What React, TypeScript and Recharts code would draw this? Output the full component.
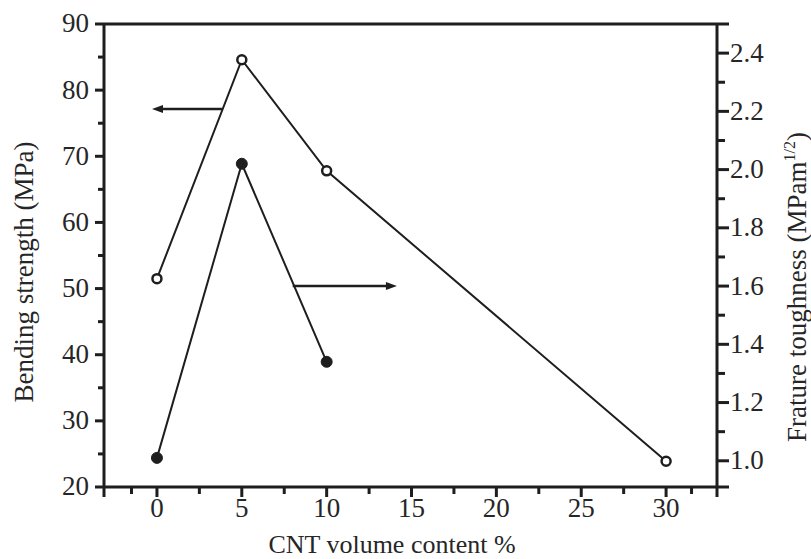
import React from 'react';
import { LineChart, Line, XAxis, YAxis, ReferenceLine } from 'recharts';

const cntContent = [0, 5, 10, 30];
const bendingStrength = [51.5, 84.6, 67.8, 23.9];
const fractureToughness = [1.01, 2.02, 1.34, null];

const xMajorTicks = [0, 5, 10, 15, 20, 25, 30];
const xMinorTicks = [-1.5, 2.5, 7.5, 12.5, 17.5, 22.5, 27.5, 31.5];
const xDomain = [-3.12, 33];

const leftMajorTicks = [20, 30, 40, 50, 60, 70, 80, 90];
const leftMinorTicks = [25, 35, 45, 55, 65, 75, 85];
const leftDomain = [20, 90];

const rightMajorTicks = [1.0, 1.2, 1.4, 1.6, 1.8, 2.0, 2.2, 2.4];
const rightMinorTicks = [1.1, 1.3, 1.5, 1.7, 1.9, 2.1, 2.3];
const rightEdgeTicks = [0.91, 2.5];
const rightDomain = [0.91, 2.5];

const arrowToLeftAxis = [{ x: 3.83, y: 77.15 }, { x: -0.29, y: 77.15 }];
const arrowToRightAxis = [{ x: 8.0, y: 50.4 }, { x: 14.14, y: 50.4 }];

const data = cntContent.map((c, i) => ({
  cnt: c,
  bending: bendingStrength[i],
  toughness: fractureToughness[i],
}));

const INK = '#1e1e1e';
const TEXT = '#262626';
const FONT = '"Liberation Serif", "Times New Roman", serif';
const TICK_FS = 27;

const XTick = (props: any) => {
  const { x, y, payload } = props;
  const v = payload.value;
  const major = xMajorTicks.includes(v);
  const minor = xMinorTicks.includes(v);
  const len = minor ? 7 : 10;
  return (
    <g>
      <line x1={x} y1={y} x2={x} y2={y + len} stroke={INK} strokeWidth={3} />
      {major && (
        <text x={x} y={y + 21} dy="0.35em" textAnchor="middle" fontSize={TICK_FS} fontFamily={FONT} fill={TEXT}>
          {v}
        </text>
      )}
    </g>
  );
};

const LeftTick = (props: any) => {
  const { x, y, payload } = props;
  const v = payload.value;
  const major = leftMajorTicks.includes(v);
  const len = major ? 9 : 6;
  return (
    <g>
      <line x1={x - len} y1={y} x2={x} y2={y} stroke={INK} strokeWidth={3} />
      {major && (
        <text x={x - 15} y={y - 1} dy="0.35em" textAnchor="end" fontSize={TICK_FS} fontFamily={FONT} fill={TEXT}>
          {v}
        </text>
      )}
    </g>
  );
};

const RightTick = (props: any) => {
  const { x, y, payload } = props;
  const v = payload.value;
  const major = rightMajorTicks.some((t) => Math.abs(t - v) < 1e-6);
  const edge = rightEdgeTicks.some((t) => Math.abs(t - v) < 1e-6);
  const len = major || edge ? 12 : 8;
  return (
    <g>
      <line x1={x} y1={y} x2={x + len} y2={y} stroke={INK} strokeWidth={3} />
      {major && (
        <text x={x + 13} y={y - 1} dy="0.35em" textAnchor="start" fontSize={TICK_FS} fontFamily={FONT} fill={TEXT}>
          {Number(v).toFixed(1)}
        </text>
      )}
    </g>
  );
};

const LeftTitle = () => (
  <text
    x={33}
    y={272}
    transform="rotate(-90, 33, 272)"
    textAnchor="middle"
    fontSize={27}
    fontFamily={FONT}
    fill={TEXT}
  >
    Bending strength (MPa)
  </text>
);

const RightTitle = () => (
  <text
    x={806}
    y={287}
    transform="rotate(-90, 806, 287)"
    textAnchor="middle"
    fontSize={27}
    fontFamily={FONT}
    fill={TEXT}
  >
    Frature toughness (MPam
    <tspan fontSize={16} dy={-11}>1/2</tspan>
    <tspan dy={11}>)</tspan>
  </text>
);

const XTitle = () => (
  <text x={392} y={553} textAnchor="middle" fontSize={26} fontFamily={FONT} fill={TEXT}>
    CNT volume content %
  </text>
);

const ArrowShape = (props: any) => {
  const { x1, y1, x2, y2 } = props;
  if (x1 == null) return null;
  const dir = x2 > x1 ? 1 : -1;
  const head = 11;
  const hw = 4;
  return (
    <g>
      <line x1={x1} y1={y1} x2={x2 - dir * head * 0.6} y2={y2} stroke={INK} strokeWidth={2.5} />
      <polygon
        points={`${x2},${y2} ${x2 - dir * head},${y2 - hw} ${x2 - dir * head},${y2 + hw}`}
        fill={INK}
      />
    </g>
  );
};

const OpenDot = (props: any) => {
  const { cx, cy } = props;
  if (cx == null || cy == null) return null;
  return <circle cx={cx} cy={cy} r={4.5} fill="#fff" stroke={INK} strokeWidth={2.5} />;
};

const FilledDot = (props: any) => {
  const { cx, cy, value } = props;
  if (cx == null || cy == null || value == null) return null;
  return <circle cx={cx} cy={cy} r={5.5} fill={INK} stroke={INK} strokeWidth={1} />;
};

export default function App() {
  return (
    <div style={{ position: 'absolute', left: 0, top: 0, width: 811, height: 559, background: '#fff' }}>
      <LineChart width={811} height={559} data={data} margin={{ top: 24, right: 0, bottom: 0, left: 0 }}>
        <XAxis
          dataKey="cnt"
          type="number"
          domain={xDomain}
          allowDataOverflow
          ticks={[xDomain[0], ...xMinorTicks, ...xMajorTicks, xDomain[1]].sort((a, b) => a - b)}
          interval={0}
          height={72}
          tickSize={0}
          tickMargin={0}
          tickLine={false}
          tick={<XTick />}
          axisLine={{ stroke: INK, strokeWidth: 3 }}
          label={<XTitle />}
        />
        <YAxis
          yAxisId="left"
          orientation="left"
          type="number"
          domain={leftDomain}
          allowDataOverflow
          ticks={[...leftMajorTicks, ...leftMinorTicks].sort((a, b) => a - b)}
          interval={0}
          width={104}
          tickSize={0}
          tickMargin={0}
          tickLine={false}
          tick={<LeftTick />}
          axisLine={{ stroke: INK, strokeWidth: 3 }}
          label={<LeftTitle />}
        />
        <YAxis
          yAxisId="right"
          orientation="right"
          type="number"
          domain={rightDomain}
          allowDataOverflow
          ticks={[...rightEdgeTicks, ...rightMajorTicks, ...rightMinorTicks].sort((a, b) => a - b)}
          interval={0}
          width={94}
          tickSize={0}
          tickMargin={0}
          tickLine={false}
          tick={<RightTick />}
          axisLine={{ stroke: INK, strokeWidth: 3 }}
          label={<RightTitle />}
        />
        <ReferenceLine yAxisId="left" y={leftDomain[1]} stroke={INK} strokeWidth={3} ifOverflow="visible" />
        <ReferenceLine
          yAxisId="left"
          segment={arrowToLeftAxis}
          ifOverflow="visible"
          shape={(p: any) => <ArrowShape {...p} />}
        />
        <ReferenceLine
          yAxisId="left"
          segment={arrowToRightAxis}
          ifOverflow="visible"
          shape={(p: any) => <ArrowShape {...p} />}
        />
        <Line
          yAxisId="left"
          dataKey="bending"
          stroke={INK}
          strokeWidth={2}
          dot={<OpenDot />}
          activeDot={false}
          isAnimationActive={false}
        />
        <Line
          yAxisId="right"
          dataKey="toughness"
          stroke={INK}
          strokeWidth={2}
          dot={<FilledDot />}
          activeDot={false}
          connectNulls={false}
          isAnimationActive={false}
        />
      </LineChart>
    </div>
  );
}
